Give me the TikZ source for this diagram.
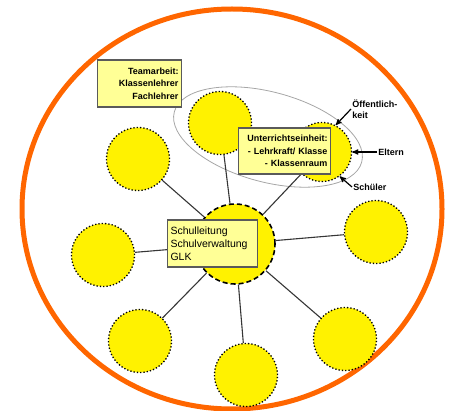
\documentclass[tikz,border=0pt]{standalone}
\usepackage{fontspec}
\setmainfont{Liberation Sans}
\usepackage{tikz}
\usetikzlibrary{arrows,positioning,shapes}
\definecolor{ringorange}{RGB}{255,102,0}
\definecolor{boxyellow}{RGB}{255,255,150}
\definecolor{boxgray}{RGB}{90,90,90}

\begin{document}
\begin{tikzpicture}[x=1pt, y=-1pt, >=stealth', thick]
   \useasboundingbox (0,0) rectangle (449,411);
   \draw[ringorange, line width=5pt] (232,209) ellipse [x radius=210, y radius=200];
   \draw[gray!70, line width=0.8pt] (268,137) ellipse [x radius=97, y radius=45, rotate=-15];
   \begin{scope}[every node/.style={circle,draw=black,dotted,line width=1.3pt,fill=yellow,minimum size=63pt,inner sep=0pt}]
    \node (k1) at (220,123) {};
    \node (k2) [minimum size=59pt] at (322,152) {};
    \node (k3) at (138,159) {};
    \node (k4) at (376,232) {};
    \node (k5) at (103,255) {};
    \node (k6) at (140,341) {};
    \node (k7) at (246,375) {};
    \node (k8) at (345,339) {};
    \node (sl) [dashed,dash pattern=on 5pt off 3pt,line width=1.6pt,minimum size=80pt] at (235,244) {};
   \end{scope}
   \begin{scope}[every path/.style={draw=boxgray!60!black,line width=1.1pt}]
    \draw (sl) -- (k1);
    \draw (sl) -- (k2);
    \draw (sl) -- (k3);
    \draw (sl) -- (k4);
    \draw (sl) -- (k5);
    \draw (sl) -- (k6);
    \draw (sl) -- (k7);
    \draw (sl) -- (k8);
   \end{scope}
   \begin{scope}[every node/.style={draw=boxgray,fill=boxyellow,line width=1.2pt,inner sep=3pt,font=\fontsize{9}{12.5}\selectfont\bfseries}]
    \node (team) [align=right,text width=78pt,minimum height=47pt] at (139.5,83.5) {Teamarbeit:\\Klassenlehrer\\Fachlehrer};
    \node (unt) [align=right,text width=86pt,minimum height=46pt] at (284.5,151) {Unterrichtseinheit:\\- Lehrkraft/ Klasse\\- Klassenraum};
    \node (box) [align=left,text width=84pt,minimum height=47pt,font=\fontsize{10.5}{13}\selectfont] at (212.5,243.5) {Schulleitung\\Schulverwaltung\\GLK};
   \end{scope}
   \begin{scope}[every node/.style={align=left,inner sep=1pt,font=\fontsize{9}{10.5}\selectfont\bfseries}]
    \node (oeff) [anchor=west] at (351,109) {Öffentlich-\\keit};
    \node (eltern) [anchor=west] at (377,152) {Eltern};
    \node (schueler) [anchor=west] at (352,187) {Schüler};
   \end{scope}
   \begin{scope}[->,line width=1.2pt]
    \draw (oeff.west) -- (k2.63);
    \draw (eltern.west) -- (k2.0);
    \draw (schueler.west) -- (k2.-54);
   \end{scope}
\end{tikzpicture}
\end{document}
